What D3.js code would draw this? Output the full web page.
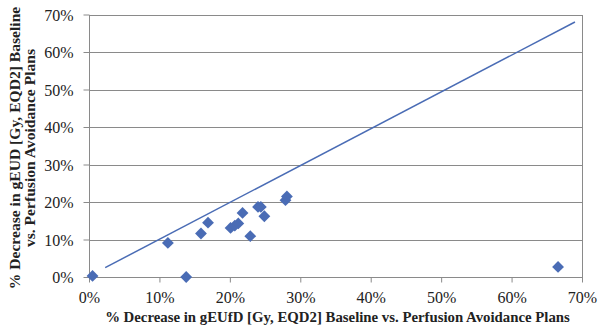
<!DOCTYPE html>
<html>
<head>
<meta charset="utf-8">
<script src="https://cdn.jsdelivr.net/npm/d3@7"></script>
<style>
  html, body { margin: 0; padding: 0; background: #fff; }
  svg { display: block; }
  .tick text { font-family: "Liberation Serif", serif; font-size: 16px; fill: #222; }
  .title { font-family: "Liberation Serif", serif; font-weight: bold; fill: #222; }
</style>
</head>
<body>
<svg id="chart" width="598" height="329"></svg>
<script>
// % decrease in gEUfD (x) vs % decrease in gEUD (y)
const xValues = [0.005, 0.112, 0.138, 0.159, 0.169, 0.201, 0.207, 0.212, 0.218, 0.229, 0.240, 0.244, 0.249, 0.279, 0.281, 0.666]
const yValues = [0.003, 0.091, 0.000, 0.116, 0.145, 0.131, 0.137, 0.143, 0.171, 0.109, 0.187, 0.187, 0.162, 0.205, 0.215, 0.027]

// reference line endpoints
const lineX = [0.023, 0.690]
const lineY = [0.025, 0.680]

const xTicks = [0, 0.1, 0.2, 0.3, 0.4, 0.5, 0.6, 0.7]
const yTicks = [0, 0.1, 0.2, 0.3, 0.4, 0.5, 0.6, 0.7]

const xTitle = "% Decrease in gEUfD [Gy, EQD2] Baseline vs. Perfusion Avoidance Plans"
const yTitle = ["% Decrease in gEUD [Gy, EQD2] Baseline", "vs. Perfusion Avoidance Plans"]

const blue = "#4a6cb5"
const grey = "#8a8a8a"

const plot = { left: 89, right: 582, top: 14.5, bottom: 277 }

const svg = d3.select("#chart")

const x = d3.scaleLinear().domain([0, 0.7]).range([plot.left, plot.right])
const y = d3.scaleLinear().domain([0, 0.7]).range([plot.bottom, plot.top])
const fmt = d3.format(".0%")

// gridlines
svg.append("g")
  .selectAll("line")
  .data(yTicks)
  .join("line")
  .attr("x1", plot.left)
  .attr("x2", plot.right)
  .attr("y1", (d) => Math.round(y(d)) + 0.5)
  .attr("y2", (d) => Math.round(y(d)) + 0.5)
  .attr("stroke", grey)
  .attr("stroke-width", 1)

// plot border
svg.append("rect")
  .attr("x", plot.left + 0.5)
  .attr("y", Math.round(plot.top) + 0.5)
  .attr("width", plot.right - plot.left)
  .attr("height", Math.round(plot.bottom) - Math.round(plot.top))
  .attr("fill", "none")
  .attr("stroke", grey)

const xAxis = svg.append("g")
  .attr("transform", `translate(0,${Math.round(plot.bottom) + 0.5})`)
  .call(d3.axisBottom(x).tickValues(xTicks).tickFormat(fmt).tickSize(5).tickPadding(9))
xAxis.select(".domain").remove()
xAxis.selectAll(".tick line").attr("stroke", grey)

const yAxis = svg.append("g")
  .attr("transform", `translate(${plot.left + 0.5},0)`)
  .call(d3.axisLeft(y).tickValues(yTicks).tickFormat(fmt).tickSize(6).tickPadding(10))
yAxis.select(".domain").remove()
yAxis.selectAll(".tick line").attr("stroke", grey)
yAxis.selectAll(".tick text").attr("dy", "0.36em")

// reference line
svg.append("line")
  .attr("x1", x(lineX[0]))
  .attr("y1", y(lineY[0]))
  .attr("x2", x(lineX[1]))
  .attr("y2", y(lineY[1]))
  .attr("stroke", blue)
  .attr("stroke-width", 1.5)

// diamonds
const diamond = d3.symbol().type(d3.symbolSquare).size(70)
svg.append("g")
  .selectAll("path")
  .data(xValues.map((v, i) => [v, yValues[i]]))
  .join("path")
  .attr("d", diamond)
  .attr("transform", (d) => `translate(${x(d[0])},${y(d[1])}) rotate(45)`)
  .attr("fill", blue)

// axis titles
svg.append("text")
  .attr("class", "title")
  .attr("x", (plot.left + plot.right) / 2 + 2)
  .attr("y", 322)
  .attr("text-anchor", "middle")
  .style("font-size", "14.8px")
  .text(xTitle)

svg.append("text")
  .attr("class", "title")
  .attr("transform", "translate(20,148) rotate(-90)")
  .attr("text-anchor", "middle")
  .style("font-size", "15.6px")
  .selectAll("tspan")
  .data(yTitle)
  .join("tspan")
  .attr("x", 0)
  .attr("dy", (d, i) => (i === 0 ? 0 : 15))
  .text((d) => d)
</script>
</body>
</html>
